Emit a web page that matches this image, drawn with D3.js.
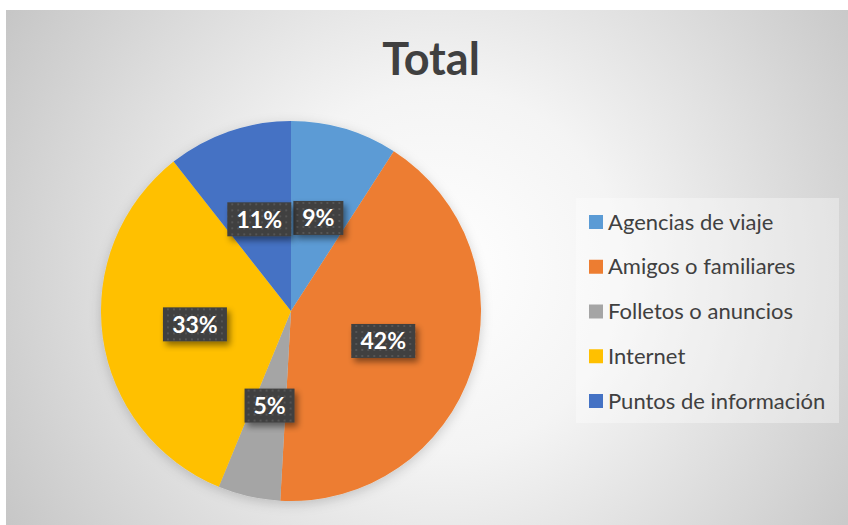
<!DOCTYPE html>
<html>
<head>
<meta charset="utf-8">
<script src="https://cdn.jsdelivr.net/npm/d3@7"></script>
<style>
  body { margin: 0; background: #ffffff; }
  svg { display: block; }
</style>
</head>
<body>
<svg class="chart" width="848" height="525"></svg>
<script>
// data
var categories = ['Agencias de viaje', 'Amigos o familiares', 'Folletos o anuncios', 'Internet', 'Puntos de información'];
var values = [9.1, 41.8, 5.3, 33.2, 10.6];
var labels = ['9%', '42%', '5%', '33%', '11%'];
var colors = ['#5b9bd5', '#ed7d31', '#a5a5a5', '#ffc000', '#4472c4'];

var svg = d3.select('.chart');
var defs = svg.append('defs');

var bg = defs.append('radialGradient').attr('id', 'bg')
  .attr('gradientUnits', 'userSpaceOnUse')
  .attr('cx', 440).attr('cy', 270).attr('r', 520);
bg.append('stop').attr('offset', '0%').attr('stop-color', '#ffffff');
bg.append('stop').attr('offset', '35%').attr('stop-color', '#f4f4f4');
bg.append('stop').attr('offset', '100%').attr('stop-color', '#c4c4c4');

// dotted fill of the data labels
var pat = defs.append('pattern').attr('id', 'dots')
  .attr('patternUnits', 'userSpaceOnUse')
  .attr('width', 6).attr('height', 6);
pat.append('rect').attr('width', 6).attr('height', 6).attr('fill', '#3f3f3f');
pat.append('rect').attr('x', 2).attr('y', 2).attr('width', 2).attr('height', 2).attr('fill', '#555555');

var shadow = defs.append('filter').attr('id', 'shadow')
  .attr('x', '-30%').attr('y', '-30%').attr('width', '160%').attr('height', '160%');
shadow.append('feDropShadow').attr('dx', 3).attr('dy', 4).attr('stdDeviation', 3)
  .attr('flood-color', '#000').attr('flood-opacity', 0.45);

var pieShadow = defs.append('filter').attr('id', 'pieShadow')
  .attr('x', '-20%').attr('y', '-20%').attr('width', '140%').attr('height', '140%');
pieShadow.append('feDropShadow').attr('dx', 0).attr('dy', 3).attr('stdDeviation', 6)
  .attr('flood-color', '#000').attr('flood-opacity', 0.18);

svg.append('rect')
  .attr('x', 6).attr('y', 10)
  .attr('width', 842).attr('height', 515)
  .attr('fill', 'url(#bg)');

svg.append('text')
  .attr('x', 431).attr('y', 75)
  .attr('text-anchor', 'middle')
  .attr('font-family', 'Lato, sans-serif')
  .attr('font-weight', 'bold')
  .attr('font-size', 45)
  .attr('fill', '#404040')
  .text('Total');

var cx = 291, cy = 311, r = 190;

var pie = d3.pie().sort(null).value(function (d) { return d; });
var arcs = pie(values);
var arc = d3.arc().innerRadius(0).outerRadius(r);

var g = svg.append('g').attr('transform', 'translate(' + cx + ',' + cy + ')');

g.append('g').attr('filter', 'url(#pieShadow)')
  .selectAll('path')
  .data(arcs)
  .enter()
  .append('path')
  .attr('d', arc)
  .attr('fill', function (d, i) { return colors[i]; });

var labelArc = d3.arc().innerRadius(97).outerRadius(97);

var lab = g.selectAll('.lab')
  .data(arcs)
  .enter()
  .append('g')
  .attr('class', 'lab')
  .attr('transform', function (d) { return 'translate(' + labelArc.centroid(d) + ')'; });

lab.append('rect')
  .attr('x', function (d, i) { return labels[i].length > 2 ? -32 : -25; })
  .attr('y', -17)
  .attr('width', function (d, i) { return labels[i].length > 2 ? 64 : 50; })
  .attr('height', 34)
  .attr('fill', 'url(#dots)')
  .attr('filter', 'url(#shadow)');

lab.append('text')
  .attr('text-anchor', 'middle')
  .attr('dy', '0.36em')
  .attr('font-family', 'Lato, sans-serif')
  .attr('font-weight', 'bold')
  .attr('font-size', 23)
  .attr('fill', '#ffffff')
  .text(function (d, i) { return labels[i]; });

// legend
var legend = svg.append('g');
legend.append('rect')
  .attr('x', 576).attr('y', 198)
  .attr('width', 263).attr('height', 225)
  .attr('fill', '#ffffff').attr('fill-opacity', 0.35);

var rowY = d3.scalePoint().domain(categories).range([222, 401]);

var item = legend.selectAll('.item')
  .data(categories)
  .enter()
  .append('g')
  .attr('class', 'item')
  .attr('transform', function (d) { return 'translate(589,' + rowY(d) + ')'; });

item.append('rect')
  .attr('x', 0).attr('y', -7)
  .attr('width', 14).attr('height', 14)
  .attr('fill', function (d, i) { return colors[i]; });

item.append('text')
  .attr('x', 19)
  .attr('dy', '0.35em')
  .attr('font-family', 'Lato, sans-serif')
  .attr('font-size', 22)
  .attr('fill', '#404040')
  .text(function (d) { return d; });
</script>
</body>
</html>
